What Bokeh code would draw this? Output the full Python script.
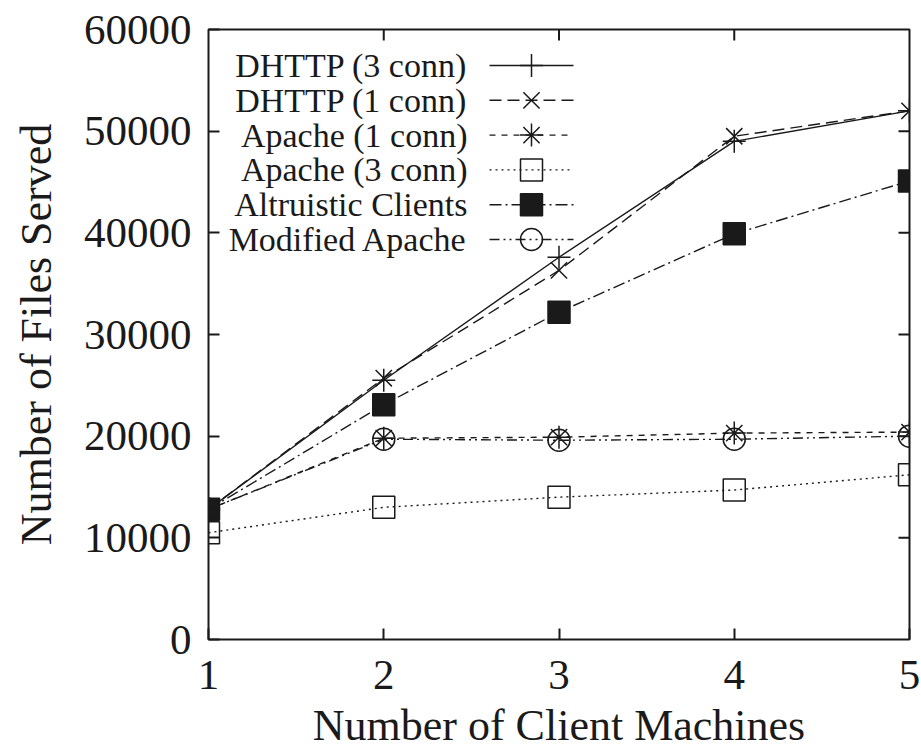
from bokeh.plotting import figure
from bokeh.models import FixedTicker, Range1d
from bokeh.core.properties import value
from bokeh.embed import file_html
from bokeh.resources import INLINE

# Files served vs. number of client machines
clients = [1, 2, 3, 4, 5]
dhttp_3conn = [12800, 25500, 37600, 49000, 52000]
dhttp_1conn = [12800, 25700, 36300, 49500, 52000]
apache_1conn = [12800, 19800, 19900, 20300, 20400]
apache_3conn = [10500, 13000, 14000, 14700, 16200]
altruistic = [12800, 23100, 32200, 39900, 45100]
modified_apache = [12800, 19700, 19600, 19700, 20000]

series_names = ["DHTTP (3 conn)", "DHTTP (1 conn)", "Apache (1 conn)",
                "Apache (3 conn)", "Altruistic Clients", "Modified Apache"]

x_ticks = [1, 2, 3, 4, 5]
y_ticks = [0, 10000, 20000, 30000, 40000, 50000, 60000]
y_tick_labels = ["0", "10000", "20000", "30000", "40000", "50000", "60000"]

FONT = "Liberation Serif"
INK = "#1a1a1a"

W, H = 921, 752
LEFT, RIGHT, TOP, BOTTOM = 208, 12, 29, 113
X0, X1, Y0, Y1 = 1, 5, 0, 60000

p = figure(width=W, height=H, output_backend="svg", toolbar_location=None,
           x_range=Range1d(X0, X1), y_range=Range1d(Y0, Y1),
           min_border_left=LEFT, min_border_right=RIGHT,
           min_border_top=TOP, min_border_bottom=BOTTOM)
p.background_fill_color = "white"
p.border_fill_color = "white"
p.grid.visible = False
p.outline_line_color = INK
p.outline_line_width = 2

TICK = 11
for ax, ticks in ((p.xaxis[0], x_ticks), (p.yaxis[0], y_ticks)):
    ax.ticker = FixedTicker(ticks=ticks)
    ax.axis_line_color = None
    ax.major_tick_in = TICK
    ax.major_tick_out = 0
    ax.major_tick_line_color = INK
    ax.major_tick_line_width = 2
    ax.minor_tick_line_color = None
    ax.major_label_text_font = FONT
    ax.major_label_text_color = INK
    ax.major_label_text_font_size = "43px"
    ax.axis_label_text_font = FONT
    ax.axis_label_text_font_size = "44px"
    ax.axis_label_text_font_style = "normal"
    ax.axis_label_text_color = INK

xa, ya = p.xaxis[0], p.yaxis[0]
ya.major_label_overrides = {t: s for t, s in zip(y_ticks, y_tick_labels)}
xa.axis_label = "Number of Client Machines"
ya.axis_label = "Number of Files Served"
xa.major_label_standoff = 21
ya.major_label_standoff = 17
xa.axis_label_standoff = 9
ya.axis_label_standoff = 20

# mirrored inward ticks along the top and right edges of the frame
frame_w = W - LEFT - RIGHT
frame_h = H - TOP - BOTTOM
dx = TICK / frame_w * (X1 - X0)
dy = TICK / frame_h * (Y1 - Y0)
top_t = [t for t in x_ticks if X0 < t < X1]
right_t = [t for t in y_ticks if Y0 < t < Y1]
p.segment(x0=top_t, y0=[Y1] * len(top_t), x1=top_t, y1=[Y1 - dy] * len(top_t),
          line_color=INK, line_width=2)
p.segment(x0=[X1] * len(right_t), y0=right_t, x1=[X1 - dx] * len(right_t), y1=right_t,
          line_color=INK, line_width=2)

LW = 1.4
series = [
    (dhttp_3conn, "solid", "cross", 23, None),
    (dhttp_1conn, "12 6", "x", 23, None),
    (apache_1conn, "6 6", "asterisk", 23, None),
    (apache_3conn, "2 4", "square", 22, None),
    (altruistic, "12 4 2 4", "square", 22, INK),
    (modified_apache, "10 4 2 4 2 4", "circle", 22, None),
]

for vals, dash, marker, size, fill in series:
    p.line(clients, vals, line_color=INK, line_width=LW, line_dash=dash)
    p.scatter(clients, vals, marker=marker, size=size, line_color=INK,
              line_width=1.5, fill_color=fill)

# key in the upper-left corner: label, then a short line sample with its marker
def px_to_x(px):
    return X0 + (px - LEFT) / frame_w * (X1 - X0)
def py_to_y(py):
    return Y0 + (H - BOTTOM - py) / frame_h * (Y1 - Y0)

key_text_x = px_to_x(467)
key_line_x0 = px_to_x(489)
key_line_x1 = px_to_x(573)
key_mark_x = px_to_x(531)
row0, row_step = 65, 34.8

for i, (name, (vals, dash, marker, size, fill)) in enumerate(zip(series_names, series)):
    yy = py_to_y(row0 + i * row_step)
    p.text([key_text_x], [yy], text=[name], text_align="right", text_baseline="middle",
           text_font=value(FONT), text_font_size="34px", text_color=INK)
    p.line([key_line_x0, key_line_x1], [yy, yy], line_color=INK, line_width=LW,
           line_dash=dash)
    p.scatter([key_mark_x], [yy], marker=marker, size=size, line_color=INK,
              line_width=1.5, fill_color=fill)

open("out.html", "w").write(file_html(p, INLINE))
